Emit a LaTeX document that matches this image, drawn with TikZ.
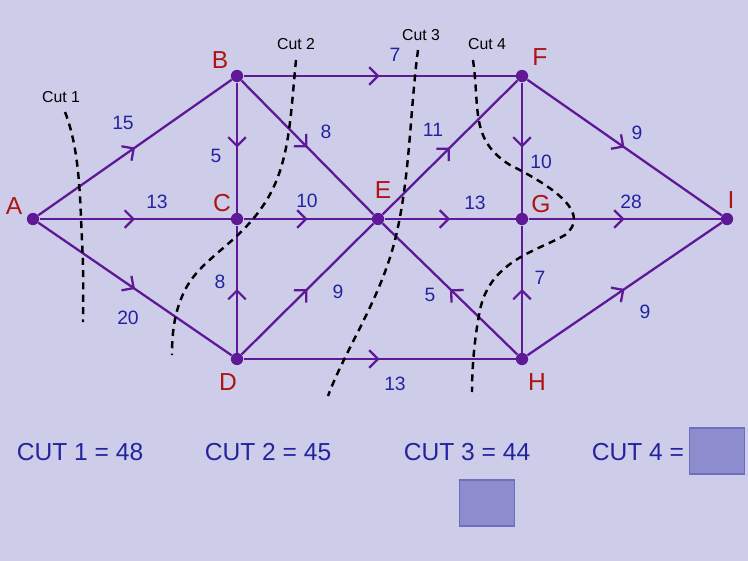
\documentclass[tikz,border=0pt]{standalone}
\usepackage{fontspec}
\setmainfont{Liberation Sans}
\usetikzlibrary{arrows.meta,decorations.markings}
\definecolor{bg}{RGB}{205,205,234}
\definecolor{edge}{RGB}{95,25,150}
\definecolor{lab}{RGB}{175,20,20}
\definecolor{num}{RGB}{35,35,160}
\definecolor{boxf}{RGB}{140,140,206}
\definecolor{boxd}{RGB}{110,110,190}
\begin{document}
\begin{tikzpicture}[x=0.02cm,y=-0.02cm,
  pt/.style={circle,fill=edge,inner sep=0pt,minimum size=7pt},
  e/.style={draw=edge,line width=1.3pt,postaction={decorate},decoration={markings,mark=at position 0.5 with {\arrow[edge,line width=1.3pt]{Straight Barb[length=5pt,width=10pt]}}}},
  nl/.style={text=lab,font=\fontsize{14}{14}\selectfont},
  w/.style={text=num,font=\fontsize{11}{11}\selectfont},
  cut/.style={draw=black,line width=1.4pt,dash pattern=on 4pt off 3pt},
  cl/.style={font=\fontsize{9}{9}\selectfont},
  res/.style={text=num,font=\fontsize{14}{14}\selectfont},
  bx/.style={draw=boxd,fill=boxf,line width=1pt,minimum width=1.1cm,minimum height=0.92cm,inner sep=0pt}]
\fill[bg] (0,0) rectangle (748,561);
\useasboundingbox (0,0) rectangle (748,561);
\node[pt] (A) at (33,219) {};
\node[pt] (B) at (237,76) {};
\node[pt] (C) at (237,219) {};
\node[pt] (D) at (237,359) {};
\node[pt] (E) at (378,219) {};
\node[pt] (F) at (522,76) {};
\node[pt] (G) at (522,219) {};
\node[pt] (H) at (522,359) {};
\node[pt] (I) at (727,219) {};
\draw[e] (A)--(B); \draw[e] (A)--(C); \draw[e] (A)--(D);
\draw[e] (B)--(F); \draw[e] (B)--(C); \draw[e] (B)--(E);
\draw[e] (C)--(E); \draw[e] (D)--(C); \draw[e] (D)--(E); \draw[e] (D)--(H);
\draw[e] (E)--(F); \draw[e] (E)--(G); \draw[e] (H)--(E);
\draw[e] (F)--(G); \draw[e] (G)--(I); \draw[e] (H)--(G);
\draw[e] (F)--(I); \draw[e] (H)--(I);
\node[nl] (lA) at (14,206) {A}; \node[nl] (lB) at (220,60) {B};
\node[nl] (lC) at (222,203) {C}; \node[nl] (lD) at (228,382) {D};
\node[nl] (lE) at (383,190) {E}; \node[nl] (lF) at (540,57) {F};
\node[nl] (lG) at (541,204) {G}; \node[nl] (lH) at (537,382) {H};
\node[nl] (lI) at (731,200) {I};
\node[w] (w1) at (123,123) {15}; \node[w] (w2) at (157,202) {13};
\node[w] (w3) at (128,318) {20}; \node[w] (w4) at (395,55) {7};
\node[w] (w5) at (216,156) {5}; \node[w] (w6) at (326,132) {8};
\node[w] (w7) at (307,201) {10}; \node[w] (w8) at (220,282) {8};
\node[w] (w9) at (338,292) {9}; \node[w] (w10) at (395,384) {13};
\node[w] (w11) at (433,130) {11}; \node[w] (w12) at (475,203) {13};
\node[w] (w13) at (430,295) {5}; \node[w] (w14) at (541,162) {10};
\node[w] (w15) at (631,202) {28}; \node[w] (w16) at (540,278) {7};
\node[w] (w17) at (637,133) {9}; \node[w] (w18) at (645,312) {9};
\node[cl] (c1) at (61,97) {Cut 1}; \node[cl] (c2) at (296,44) {Cut 2};
\node[cl] (c3) at (421,35) {Cut 3}; \node[cl] (c4) at (487,44) {Cut 4};
\draw[cut] (65,112) .. controls (80,150) and (80,200) .. (82,240) .. controls (84,280) and (83,300) .. (83,322);
\draw[cut] (296,60) .. controls (290,120) and (290,170) .. (260,210) .. controls (235,245) and (200,260) .. (185,290) .. controls (175,310) and (172,330) .. (172,355);
\draw[cut] (418,50) .. controls (410,110) and (410,180) .. (395,240) .. controls (380,300) and (345,350) .. (328,396);
\draw[cut] (473,60) .. controls (480,110) and (470,140) .. (510,165) .. controls (560,190) and (590,215) .. (565,235) .. controls (540,250) and (490,260) .. (480,310) .. controls (474,340) and (472,370) .. (472,392);
\node[res] (r1) at (80,452) {CUT 1 = 48};
\node[res] (r2) at (268,452) {CUT 2 = 45};
\node[res] (r3) at (467,452) {CUT 3 = 44};
\node[res] (r4) at (638,452) {CUT 4 =};
\node[bx] (b1) at (717,451) {};
\node[bx] (b2) at (487,503) {};
\end{tikzpicture}
\end{document}
